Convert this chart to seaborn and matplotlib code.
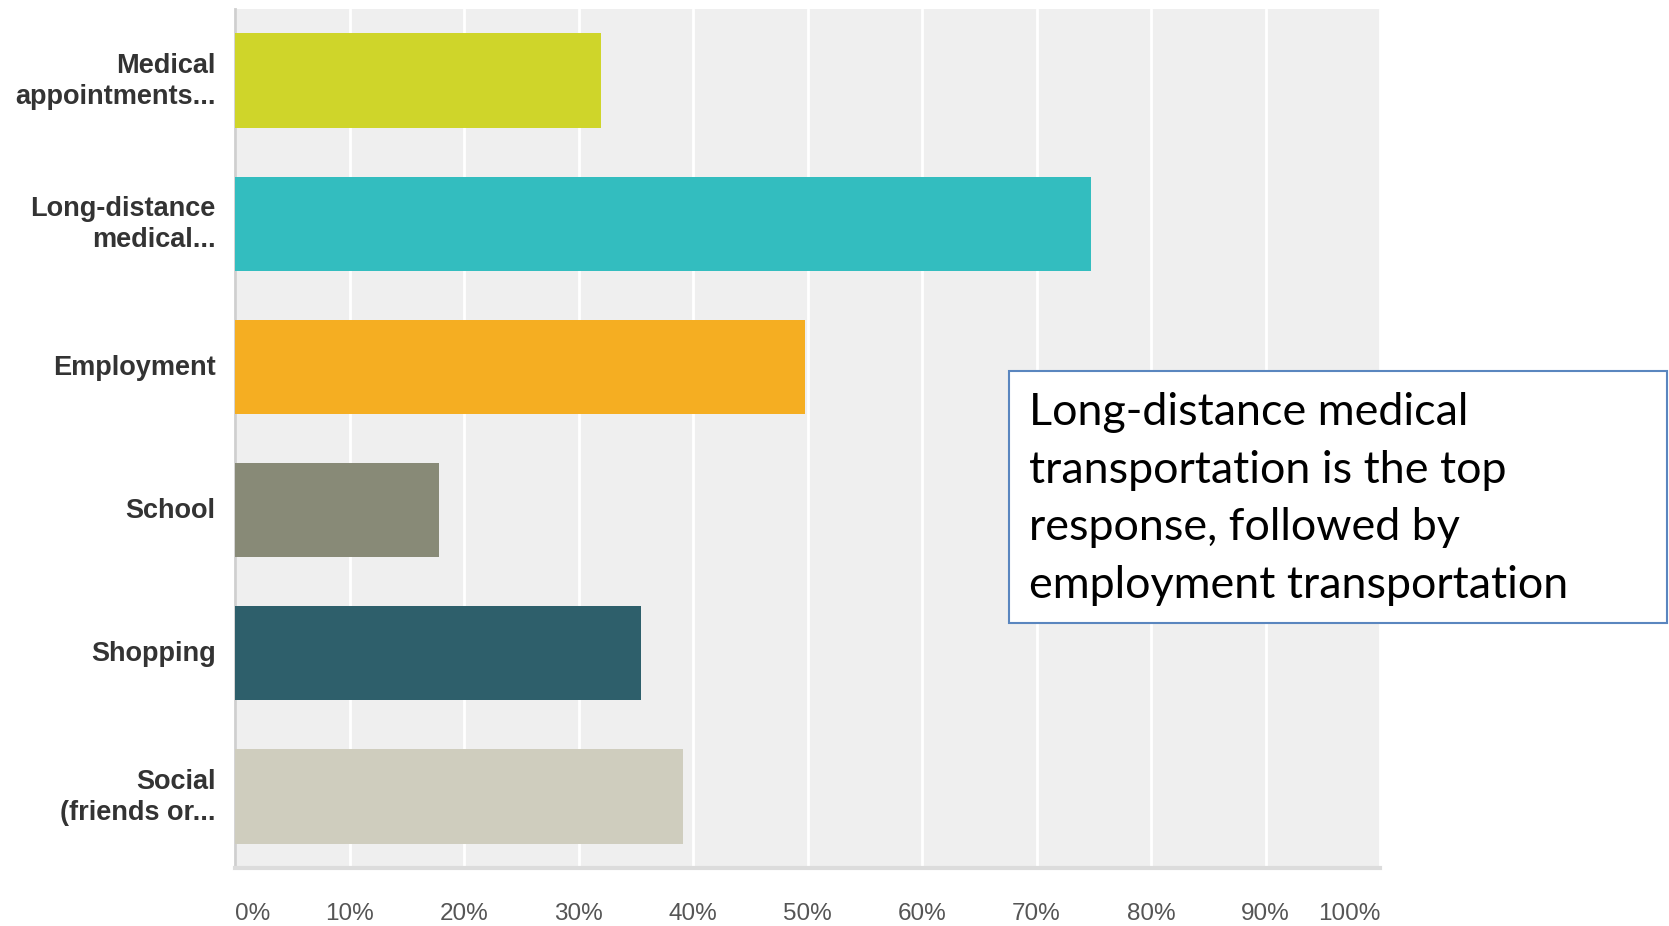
import matplotlib
matplotlib.use("Agg")
import matplotlib.pyplot as plt
import matplotlib.transforms as mtransforms
import seaborn as sns
import pandas as pd

categories = ["Medical\nappointments...", "Long-distance\nmedical...", "Employment",
              "School", "Shopping", "Social\n(friends or..."]
values = [32.0, 74.8, 49.8, 17.8, 35.5, 39.1]
colors = ["#cfd52a", "#33bdbf", "#f5ae22", "#888a77", "#2e5f6b", "#cfcdbe"]
tick_values = [0, 10, 20, 30, 40, 50, 60, 70, 80, 90, 100]
tick_labels = ["0%", "10%", "20%", "30%", "40%", "50%", "60%", "70%", "80%", "90%", "100%"]
note = ("Long-distance medical\ntransportation is the top\n"
        "response, followed by\nemployment transportation")

sns.set_style("white")
plt.rcParams["font.family"] = ["Liberation Sans", "DejaVu Sans"]

df = pd.DataFrame({"category": categories, "value": values})

fig = plt.figure(figsize=(16.69, 9.26), dpi=100)
ax = fig.add_axes([235 / 1669, 1 - 868 / 926, 1145 / 1669, 859 / 926])
ax.set_facecolor("#efefef")

sns.barplot(data=df, y="category", x="value", hue="category", palette=colors,
            orient="h", width=0.66, legend=False, ax=ax, saturation=1, zorder=3,
            linewidth=0, edgecolor="none")

ax.set_xlim(0, 100)
ax.set_ylim(5.5, -0.5)
ax.set_xticks(tick_values)
ax.set_xticklabels(tick_labels, fontsize=17.5, color="#555555")
xl = ax.get_xticklabels()
xl[0].set_ha("left")
xl[-1].set_ha("right")
ax.tick_params(axis="x", length=0, pad=25)
ax.tick_params(axis="y", length=0, pad=14)
for lbl in ax.get_yticklabels():
    lbl.set_fontsize(19.5)
    lbl.set_fontweight("bold")
    lbl.set_color("#333333")
    lbl.set_linespacing(1.27)
    dy = 3.5 if "\n" in lbl.get_text() else 1.5
    lbl.set_transform(lbl.get_transform() +
                      mtransforms.ScaledTranslation(0, dy / 72, fig.dpi_scale_trans))
ax.set_xlabel("")
ax.set_ylabel("")

ax.grid(axis="x", color="white", linewidth=2, zorder=1)
ax.grid(axis="y", visible=False)
ax.set_axisbelow(True)

for s in ["top", "right"]:
    ax.spines[s].set_visible(False)
ax.spines["left"].set_color("#cfcfcf")
ax.spines["left"].set_linewidth(2)
ax.spines["bottom"].set_color("#dcdcdc")
ax.spines["bottom"].set_linewidth(3)

box = matplotlib.patches.Rectangle((1009 / 1669, 1 - 623 / 926), 658 / 1669, 252 / 926,
                                   transform=fig.transFigure, facecolor="white",
                                   edgecolor="#5a86bf", linewidth=1.5, zorder=5)
fig.patches.append(box)

t = fig.text(1029 / 1669, 1 - 499 / 926, note, fontsize=32.3, family=["Lato", "DejaVu Sans"],
             color="black", ha="left", va="center", linespacing=1.50)
t.set_zorder(6)

fig.savefig("out.png", dpi=100)
